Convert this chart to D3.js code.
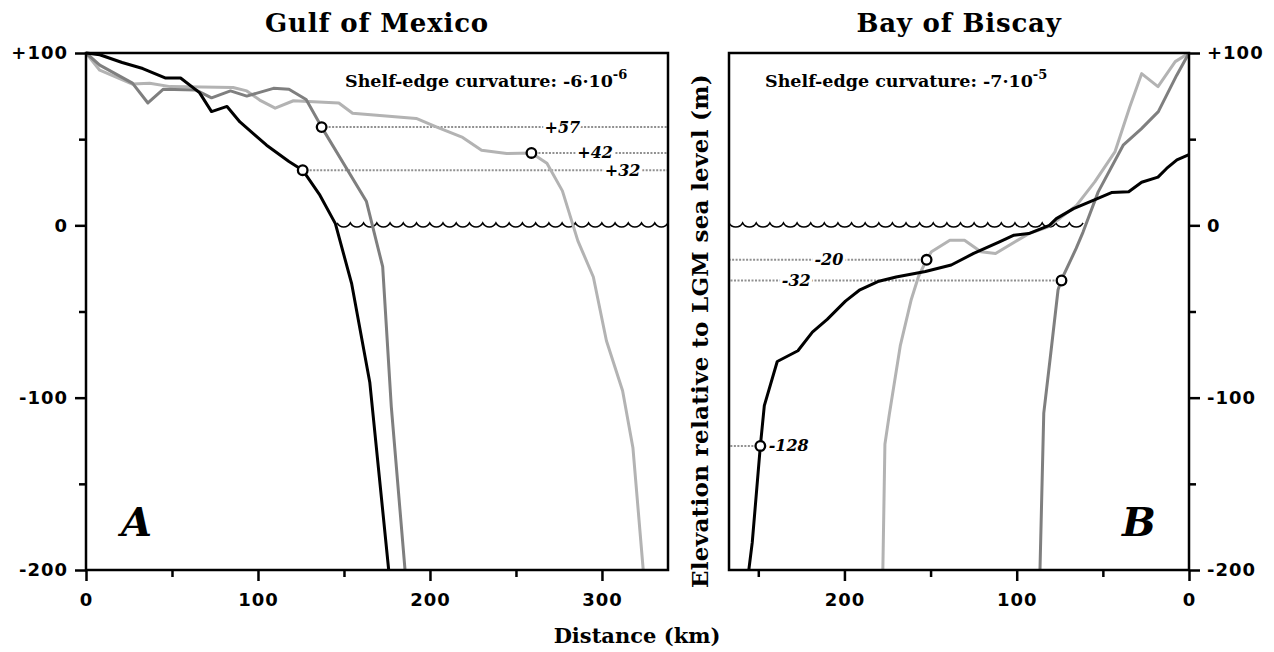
<!DOCTYPE html>
<html lang="en">
<head>
<meta charset="UTF-8">
<title>Shelf-edge profiles: Gulf of Mexico / Bay of Biscay</title>
<script src="https://d3js.org/d3.v7.min.js"></script>
<style>
    body { margin: 0; background: #fff; }
    svg { display: block; }
    .serif { font-family: "DejaVu Serif", serif; font-weight: bold; fill: #000; }
    .tick text { font-family: "DejaVu Sans", sans-serif; font-weight: bold; font-size: 18px; letter-spacing: 1px; fill: #000; }
    .tick line { stroke: #000; stroke-width: 2.5; }
    .profile { fill: none; stroke-width: 3; stroke-linejoin: round; }
    .guide { stroke: #909090; stroke-width: 2; stroke-dasharray: 2 1.5; }
    .marker { fill: #fff; stroke: #000; stroke-width: 2.3; }
    .level { font-family: "DejaVu Serif", serif; font-style: italic; font-weight: bold; font-size: 16px;
             paint-order: stroke; stroke: #fff; stroke-width: 6px; fill: #000; }
    .frame { fill: none; stroke: #000; stroke-width: 2.5; }
    .sea { fill: none; stroke: #000; stroke-width: 1.5; }
</style>
</head>
<body>
<div id="chart"></div>
<script>
// ---- data (distance km, elevation m relative to LGM sea level) ----
const yTicks = [100, 0, -100, -200];
const yMinor = [50, -50, -150];
const gomTicks = [0, 100, 200, 300];
const gomMinor = [50, 150, 250];
const bobTicks = [200, 100, 0];
const bobMinor = [250, 150, 50];

// Gulf of Mexico profiles
const gomBlack = [[0,100],[8,99],[21,94.5],[33,91],[46,85.5],[55,85.5],[66,77],[73,66],[82,69],[89.5,60],
    [105,46.5],[118,37],[126,32],[136,17.5],[145,1],[154.5,-34],[165,-91],[176,-200]];
const gomMed = [[0,100],[8,93],[27,82.5],[36,71],[45,79],[64,78.5],[73,74],[84,78],[93.5,75],[109,79.5],
    [118,79],[128,73],[137,57],[163,14],[172.5,-24],[177.5,-105],[185.5,-200]];
const gomLight = [[0,100],[8,90],[27,82],[37,82.5],[49,80.5],[85.5,80],[93.5,78],[101,72.7],[110,68],[120.6,72.3],
    [147,71],[155,65],[192,62],[204,57],[219,51],[230,43.6],[244.6,41.7],[259,42],[268,36],[277,20],[286,-9],
    [295,-30],[302.6,-67],[312,-96],[318,-129],[324,-200]];

// Bay of Biscay profiles
const bobBlack = [[0,41],[7,38],[13,33],[18,28],[27.5,25],[35,19.5],[45,19],[55.6,14.5],[67,9.7],[77,3.9],
    [81,0],[93,-4.8],[101.6,-5.7],[110,-9.6],[125,-16.3],[138,-23],[153,-26.8],[170,-30],[180.6,-32.6],[191,-37.4],
    [199.4,-44],[210,-54.6],[218.6,-62],[227,-72.8],[239,-79],[246.5,-104.6],[248.8,-128],[253.5,-184],[255.5,-200]];
const bobLight = [[0,100],[8,95],[18,80.5],[27.5,88],[34.3,69],[43,42.6],[54.7,25.2],[65.3,11.6],[75,4],[82,-1],
    [93,-4.8],[112.3,-16.3],[120.8,-15.3],[130.3,-8.6],[138.8,-8.6],[149.5,-15.3],[152.3,-20],[157,-29.7],
    [161.2,-43],[167.6,-70],[174,-110],[176.5,-127],[177.7,-200]];
const bobMed = [[0,100],[7.2,87],[17.8,66],[27.7,56],[38.2,46.5],[52.7,19.4],[61.5,-3.9],[65.5,-13.4],[74,-31.5],
    [76,-37.4],[80.4,-75.7],[84.3,-109],[86.5,-200]];

// shelf-edge points and their labels
const gomEdges = [[137,57],[259,42],[126,32]];
const gomEdgeLabels = ["+57", "+42", "+32"];
const gomLabelAt = [277, 296, 312];
const bobEdges = [[152.3,-20],[74,-32],[248.8,-128]];
const bobEdgeLabels = ["-20", "-32", "-128"];
const bobLabelAt = [209, 228, 244];

const gomSea = [146, 338.4];
const bobSea = [267, 61.5];

// ---- layout ----
const width = 1274, height = 652;
const svg = d3.select('#chart').append('svg').attr('width', width).attr('height', height);

const y = d3.scaleLinear().domain([100, -200]).range([53, 570]);
const xGom = d3.scaleLinear().domain([0, 338.4]).range([86, 668]);
const xBob = d3.scaleLinear().domain([267, 0]).range([729, 1189]);

const colors = { black: '#000', med: '#7f7f7f', light: '#b3b3b3' };
const fmtY = d => d > 0 ? '+' + d : String(d);
const fmtX = d => String(d);

function sea(g, x, span) {
    const a = Math.min(x(span[0]), x(span[1])), b = Math.max(x(span[0]), x(span[1]));
    const n = Math.round((b - a) / 13.5), p = (b - a) / n, r = p * 0.56;
    const y0 = y(0) - 2.5;
    let path = `M${a},${y0}`;
    for (let i = 0; i < n; i++) path += `A${r},${r} 0 0 0 ${a + p * (i + 1)},${y0}`;
    g.append('path').attr('class', 'sea').attr('d', path);
}

function panel(x, lines, edges, labels, labelAt, seaSpan, side) {
    const g = svg.append('g');
    const x0 = x.range()[0], x1 = x.range()[1];
    const axisY = () => side === 'left' ? d3.axisLeft(y) : d3.axisRight(y);
    const yPos = side === 'left' ? x0 : x1;

    // axes
    g.append('g').attr('transform', `translate(${yPos},0)`)
        .call(axisY().tickValues(yTicks).tickFormat(fmtY).tickSize(11).tickPadding(7).tickSizeOuter(0));
    g.append('g').attr('transform', `translate(${yPos},0)`)
        .call(axisY().tickValues(yMinor).tickFormat('').tickSize(7).tickSizeOuter(0));
    g.append('g').attr('transform', `translate(0,${y.range()[1]})`)
        .call(d3.axisBottom(x).tickValues(side === 'left' ? gomTicks : bobTicks).tickFormat(fmtX).tickSize(11).tickPadding(12).tickSizeOuter(0));
    g.append('g').attr('transform', `translate(0,${y.range()[1]})`)
        .call(d3.axisBottom(x).tickValues(side === 'left' ? gomMinor : bobMinor).tickFormat('').tickSize(7).tickSizeOuter(0));
    g.selectAll('.domain').remove();
    g.selectAll('.tick text').attr('font-family', null).attr('font-size', null);

    sea(g, x, seaSpan);

    // guides to the shelf-edge points
    const xEdge = side === 'left' ? x.domain()[1] : x.domain()[0];
    g.selectAll('.guide').data(edges).enter().append('line')
        .attr('class', 'guide')
        .attr('x1', d => x(d[0])).attr('x2', x(xEdge))
        .attr('y1', d => y(d[1])).attr('y2', d => y(d[1]));

    const line = d3.line().x(d => x(d[0])).y(d => y(d[1]));
    lines.forEach(l => {
        g.append('path').attr('class', 'profile').attr('d', line(l.data)).attr('stroke', l.color);
    });

    g.selectAll('.level').data(edges).enter().append('text')
        .attr('class', 'level')
        .attr('x', (d, i) => x(labelAt[i]))
        .attr('y', d => y(d[1]) + 5.5)
        .attr('text-anchor', 'middle')
        .text((d, i) => labels[i]);

    g.selectAll('.marker').data(edges).enter().append('circle')
        .attr('class', 'marker')
        .attr('cx', d => x(d[0])).attr('cy', d => y(d[1])).attr('r', 4.8);

    g.append('rect').attr('class', 'frame')
        .attr('x', x0).attr('y', y.range()[0])
        .attr('width', x1 - x0).attr('height', y.range()[1] - y.range()[0]);
    return g;
}

panel(xGom, [
    { data: gomLight, color: colors.light },
    { data: gomMed, color: colors.med },
    { data: gomBlack, color: colors.black }
], gomEdges, gomEdgeLabels, gomLabelAt, gomSea, 'left');

const gB = panel(xBob, [
    { data: bobLight, color: colors.light },
    { data: bobMed, color: colors.med },
    { data: bobBlack, color: colors.black }
], bobEdges, bobEdgeLabels, bobLabelAt, bobSea, 'right');

// the -128 label sits right of its marker
gB.selectAll('.level').filter((d, i) => i === 2).attr('text-anchor', 'start');

// titles
svg.append('text').attr('class', 'serif').attr('x', 377).attr('y', 32)
    .attr('text-anchor', 'middle').attr('font-size', 26).attr('letter-spacing', 0.8).text('Gulf of Mexico');
svg.append('text').attr('class', 'serif').attr('x', 959).attr('y', 32)
    .attr('text-anchor', 'middle').attr('font-size', 26).attr('letter-spacing', 0.8).text('Bay of Biscay');

function curvature(x0, base, exp) {
    const t = svg.append('text').attr('class', 'serif').attr('x', x0).attr('y', 87).attr('font-size', 17.5);
    t.append('tspan').text(base);
    t.append('tspan').attr('dy', -8).attr('font-size', 13).text(exp);
}
curvature(345, 'Shelf-edge curvature: -6·10', '-6');
curvature(765, 'Shelf-edge curvature: -7·10', '-5');

// panel letters
svg.append('text').attr('class', 'serif').attr('x', 121).attr('y', 536)
    .attr('font-size', 40).attr('font-style', 'italic').text('A');
svg.append('text').attr('class', 'serif').attr('x', 1122).attr('y', 536)
    .attr('font-size', 40).attr('font-style', 'italic').text('B');

// axis titles
svg.append('text').attr('class', 'serif').attr('x', 637).attr('y', 643)
    .attr('text-anchor', 'middle').attr('font-size', 21).text('Distance (km)');
svg.append('text').attr('class', 'serif')
    .attr('transform', 'translate(708,331) rotate(-90)')
    .attr('text-anchor', 'middle').attr('font-size', 23).attr('letter-spacing', 0.3)
    .text('Elevation relative to LGM sea level (m)');
</script>
</body>
</html>
